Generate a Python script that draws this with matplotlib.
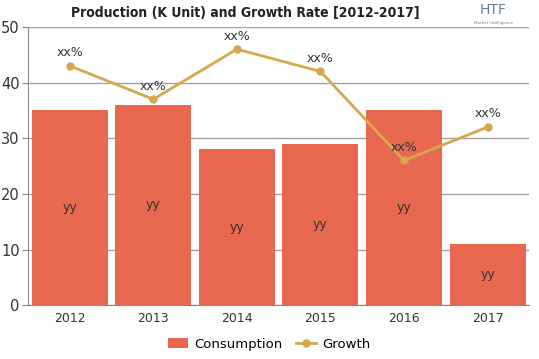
import matplotlib.pyplot as plt

years = ['2012', '2013', '2014', '2015', '2016', '2017']
consumption = [35, 36, 28, 29, 35, 11]
growth = [43, 37, 46, 42, 26, 32]
bar_labels = ['yy'] * 6
point_labels = ['xx%'] * 6

fig = plt.figure(figsize=(5.39, 3.59), dpi=100)
ax = fig.add_axes([0.052, 0.150, 0.93, 0.775])

x = range(len(years))
bars = ax.bar(x, consumption, width=0.91, color='#E8694F', label='Consumption', zorder=2)
line, = ax.plot(x, growth, color='#D4A84B', marker='o', markersize=5, linewidth=2, label='Growth', zorder=3)

for i, v in enumerate(consumption):
    ax.text(i, v / 2, bar_labels[i], ha='center', va='center', fontsize=9, color='#333333', zorder=4)
for i, v in enumerate(growth):
    ax.text(i, v + 1.2, point_labels[i], ha='center', va='bottom', fontsize=9, color='#333333', zorder=4)

ax.set_xlim(-0.5, 5.5)
ax.set_ylim(0, 50)
ax.set_yticks([0, 10, 20, 30, 40, 50])
ax.set_xticks(list(x))
ax.set_xticklabels(years)
ax.grid(axis='y', color='#a0a0a0', linewidth=1, zorder=0)
for s in ['top', 'right']:
    ax.spines[s].set_visible(False)
ax.spines['left'].set_color('#888888')
ax.spines['bottom'].set_color('#888888')
ax.tick_params(axis='y', length=4, color='#888888', labelsize=10.5, labelcolor='#333333', pad=2)
ax.tick_params(axis='x', length=0, labelsize=9, labelcolor='#333333', pad=5)

fig.text(0.455, 0.965, 'Production (K Unit) and Growth Rate [2012-2017]', ha='center', va='center',
         fontsize=10, fontweight='heavy', fontstretch='condensed', color='#222222')
fig.text(0.915, 0.972, 'HTF', ha='center', va='center', fontsize=10, color='#6a7f9a')
fig.text(0.915, 0.935, 'Market Intelligence', ha='center', va='center', fontsize=3, color='#6a7f9a')

fig.legend([bars, line], ['Consumption', 'Growth'], loc='lower center', bbox_to_anchor=(0.5, -0.01),
           ncol=2, frameon=False, fontsize=9.5, handlelength=1.5, columnspacing=1.0, handletextpad=0.5)

fig.savefig('out.png', dpi=100)
